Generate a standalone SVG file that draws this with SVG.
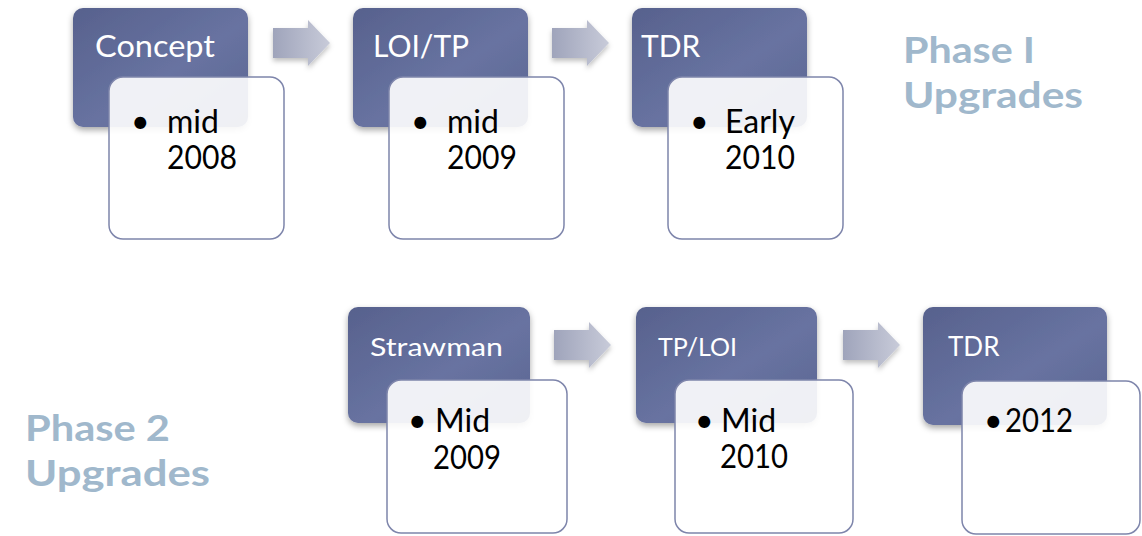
<svg xmlns="http://www.w3.org/2000/svg" width="1142" height="536" viewBox="0 0 1142 536">
<defs>
<linearGradient id="dark" x1="0" y1="0" x2="1" y2="1">
<stop offset="0" stop-color="#57618d"/>
<stop offset="0.55" stop-color="#6873a1"/>
<stop offset="1" stop-color="#5b6591"/>
</linearGradient>
<linearGradient id="arr" x1="0" y1="0" x2="1" y2="0">
<stop offset="0" stop-color="#9fa4bb"/>
<stop offset="1" stop-color="#c8cbd9"/>
</linearGradient>
<filter id="sh" x="-10%" y="-10%" width="120%" height="130%">
<feDropShadow dx="0" dy="3" stdDeviation="3" flood-color="#000" flood-opacity="0.35"/>
</filter>
<filter id="ash" x="-20%" y="-20%" width="140%" height="150%">
<feDropShadow dx="0" dy="3" stdDeviation="2.5" flood-color="#000" flood-opacity="0.25"/>
</filter>
<path id="arrow" d="M0,8 H35 V0 L57,23 L35,46 V38 H0 Z"/>
</defs>
<style>
.d{fill:url(#dark);filter:url(#sh)}
.w{fill:#ffffff;fill-opacity:0.9;stroke:#7e85ab;stroke-width:1.5}
.t{font-family:Lato,"Open Sans",sans-serif;fill:#ffffff}
.b{font-family:Lato,"Open Sans",sans-serif;fill:#000000;font-size:32px}
.p{font-family:Lato,"Open Sans",sans-serif;font-weight:bold;fill:#a0b8cc;font-size:37px}
.a{fill:url(#arr);filter:url(#ash)}
</style>
<rect width="1142" height="536" fill="#ffffff"/>
<g id="connectors">
<use href="#arrow" class="a" x="273" y="20"/>
<use href="#arrow" class="a" x="552" y="20"/>
<use href="#arrow" class="a" x="554" y="322"/>
<use href="#arrow" class="a" x="843" y="322"/>
</g>
<g id="concept">
<rect class="d" x="73" y="8" width="175" height="119" rx="10"/>
<text class="t" x="95" y="57" font-size="30" textLength="120" lengthAdjust="spacingAndGlyphs">Concept</text>
<rect class="w" x="109" y="77" width="175" height="162" rx="14"/>
<text class="b" x="131" y="133">•</text>
<text class="b" x="167" y="133">mid</text>
<text class="b" x="167" y="169" textLength="70" lengthAdjust="spacingAndGlyphs">2008</text>
</g>
<g id="loitp">
<rect class="d" x="353" y="8" width="175" height="119" rx="10"/>
<text class="t" x="373" y="57" font-size="30">LOI/TP</text>
<rect class="w" x="389" y="77" width="175" height="162" rx="14"/>
<text class="b" x="411" y="133">•</text>
<text class="b" x="447" y="133">mid</text>
<text class="b" x="447" y="169" textLength="70" lengthAdjust="spacingAndGlyphs">2009</text>
</g>
<g id="tdr1">
<rect class="d" x="632" y="8" width="175" height="119" rx="10"/>
<text class="t" x="641" y="57" font-size="30">TDR</text>
<rect class="w" x="668" y="77" width="175" height="162" rx="14"/>
<text class="b" x="690" y="133">•</text>
<text class="b" x="725" y="133">Early</text>
<text class="b" x="725" y="169" textLength="70" lengthAdjust="spacingAndGlyphs">2010</text>
</g>
<g id="phase1">
<text class="p" x="903" y="63" textLength="132" lengthAdjust="spacingAndGlyphs">Phase I</text>
<text class="p" x="903" y="108" textLength="180" lengthAdjust="spacingAndGlyphs">Upgrades</text>
</g>
<g id="strawman">
<rect class="d" x="348" y="307" width="182" height="116" rx="10"/>
<text class="t" x="370" y="356" font-size="25" textLength="133" lengthAdjust="spacingAndGlyphs">Strawman</text>
<rect class="w" x="387" y="380" width="180" height="153" rx="14"/>
<text class="b" x="408" y="432">•</text>
<text class="b" x="435" y="432">Mid</text>
<text class="b" x="433" y="469" textLength="68" lengthAdjust="spacingAndGlyphs">2009</text>
</g>
<g id="tploi">
<rect class="d" x="636" y="307" width="181" height="116" rx="10"/>
<text class="t" x="658" y="356" font-size="25">TP/LOI</text>
<rect class="w" x="675" y="380" width="178" height="153" rx="14"/>
<text class="b" x="695" y="432">•</text>
<text class="b" x="721" y="432">Mid</text>
<text class="b" x="720" y="468" textLength="68" lengthAdjust="spacingAndGlyphs">2010</text>
</g>
<g id="tdr2">
<rect class="d" x="923" y="307" width="184" height="118" rx="10"/>
<text class="t" x="948" y="356" font-size="26">TDR</text>
<rect class="w" x="962" y="381" width="178" height="153" rx="14"/>
<text class="b" x="984" y="432">•</text>
<text class="b" x="1005" y="432" textLength="68" lengthAdjust="spacingAndGlyphs">2012</text>
</g>
<g id="phase2">
<text class="p" x="25" y="441" textLength="145" lengthAdjust="spacingAndGlyphs">Phase 2</text>
<text class="p" x="25" y="486" textLength="185" lengthAdjust="spacingAndGlyphs">Upgrades</text>
</g>
</svg>
